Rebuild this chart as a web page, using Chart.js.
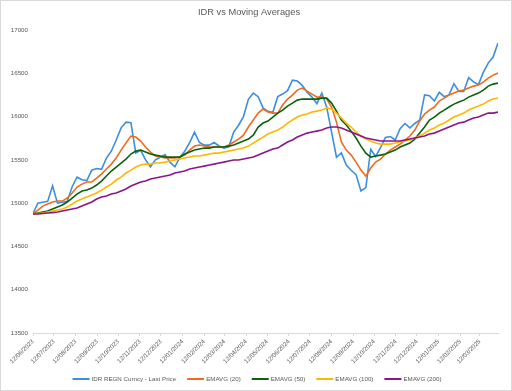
<!DOCTYPE html>
<html>
<head>
<meta charset="utf-8">
<script src="https://cdn.jsdelivr.net/npm/chart.js@4"></script>
<style>
  html, body { margin: 0; padding: 0; background: #fff; }
</style>
</head>
<body>
<canvas id="fxChart" width="512" height="391"></canvas>
<script>
// Weekly samples (Mondays)
const weeks = [
  '12/06/2023','19/06/2023','26/06/2023','03/07/2023','10/07/2023','17/07/2023','24/07/2023','31/07/2023',
  '07/08/2023','14/08/2023','21/08/2023','28/08/2023','04/09/2023','11/09/2023','18/09/2023','25/09/2023',
  '02/10/2023','09/10/2023','16/10/2023','23/10/2023','30/10/2023','06/11/2023','13/11/2023','20/11/2023',
  '27/11/2023','04/12/2023','11/12/2023','18/12/2023','25/12/2023',
  '01/01/2024','08/01/2024','15/01/2024','22/01/2024','29/01/2024','05/02/2024','12/02/2024','19/02/2024',
  '26/02/2024','04/03/2024','11/03/2024','18/03/2024','25/03/2024','01/04/2024','08/04/2024','15/04/2024',
  '22/04/2024','29/04/2024','06/05/2024','13/05/2024','20/05/2024','27/05/2024','03/06/2024','10/06/2024',
  '17/06/2024','24/06/2024','01/07/2024','08/07/2024','15/07/2024','22/07/2024','29/07/2024','05/08/2024',
  '12/08/2024','19/08/2024','26/08/2024','02/09/2024','09/09/2024','16/09/2024','23/09/2024','30/09/2024',
  '07/10/2024','14/10/2024','21/10/2024','28/10/2024','04/11/2024','11/11/2024','18/11/2024','25/11/2024',
  '02/12/2024','09/12/2024','16/12/2024','23/12/2024','30/12/2024',
  '06/01/2025','13/01/2025','20/01/2025','27/01/2025','03/02/2025','10/02/2025','17/02/2025','24/02/2025',
  '03/03/2025','10/03/2025','17/03/2025','24/03/2025','31/03/2025','07/04/2025'
];

const monthTicks = [
  '12/06/2023','12/07/2023','12/08/2023','12/09/2023','12/10/2023','12/11/2023','12/12/2023',
  '12/01/2024','12/02/2024','12/03/2024','12/04/2024','12/05/2024','12/06/2024','12/07/2024',
  '12/08/2024','12/09/2024','12/10/2024','12/11/2024','12/12/2024','12/01/2025','12/02/2025','12/03/2025'
];

const yTicks = [13500, 14000, 14500, 15000, 15500, 16000, 16500, 17000];

const price = [
  14880,15000,15010,15020,15200,15000,15010,15020,15190,15300,
  15270,15260,15380,15400,15390,15520,15600,15730,15870,15936,
  15930,15580,15610,15500,15420,15500,15530,15560,15470,15420,
  15530,15600,15700,15820,15700,15670,15670,15700,15660,15636,
  15650,15820,15900,16000,16200,16270,16230,16100,16060,16050,
  16230,16260,16300,16420,16410,16360,16280,16225,16150,16270,
  16110,15820,15530,15580,15440,15380,15330,15140,15180,15620,
  15540,15640,15760,15770,15730,15860,15920,15870,15920,15960,
  16250,16240,16180,16280,16230,16250,16380,16290,16290,16450,
  16400,16370,16510,16618,16687,16849
];

const ema20 = [
  14874,14920,14966,14990,15013,15024,15024,15059,15117,15186,
  15220,15244,15244,15290,15336,15394,15451,15521,15613,15694,
  15775,15763,15717,15648,15590,15544,15532,15521,15521,15521,
  15532,15555,15613,15659,15671,15659,15648,15648,15648,15648,
  15671,15706,15740,15786,15879,15960,16040,16087,16052,16040,
  16040,16133,16202,16248,16306,16329,16294,16260,16225,16225,
  16202,16110,15936,15706,15613,15555,15474,15382,15313,15405,
  15474,15509,15567,15613,15648,15682,15729,15775,15844,15948,
  16029,16075,16110,16179,16213,16248,16271,16294,16306,16329,
  16352,16364,16398,16444,16479,16502
];

const ema50 = [
  14874,14886,14897,14909,14932,14955,14978,15013,15059,15105,
  15140,15151,15174,15209,15255,15313,15371,15417,15463,15509,
  15567,15601,15613,15590,15567,15555,15544,15532,15532,15532,
  15532,15567,15590,15613,15625,15636,15636,15648,15648,15648,
  15659,15671,15694,15717,15740,15786,15879,15925,15948,15994,
  16040,16075,16121,16156,16190,16202,16202,16202,16202,16213,
  16213,16156,16063,15960,15902,15832,15752,15659,15578,15532,
  15544,15555,15567,15590,15613,15648,15671,15694,15740,15809,
  15879,15960,15994,16040,16075,16110,16144,16167,16190,16225,
  16248,16271,16306,16352,16375,16387
];

const ema100 = [
  14874,14880,14886,14897,14909,14920,14932,14955,14990,15024,
  15047,15070,15093,15117,15151,15186,15220,15267,15301,15348,
  15382,15417,15440,15451,15451,15463,15463,15474,15486,15498,
  15509,15521,15532,15544,15544,15555,15567,15578,15578,15590,
  15601,15613,15625,15636,15659,15694,15729,15763,15798,15821,
  15844,15879,15925,15960,15994,16017,16029,16052,16063,16075,
  16098,16087,16040,15983,15925,15879,15821,15775,15740,15717,
  15694,15682,15682,15682,15694,15706,15717,15729,15752,15775,
  15809,15844,15867,15902,15925,15960,15994,16017,16040,16075,
  16098,16121,16144,16179,16202,16213
];

const ema200 = [
  14874,14874,14880,14886,14891,14897,14909,14920,14932,14943,
  14966,14990,15013,15047,15070,15082,15105,15117,15140,15163,
  15197,15220,15244,15255,15278,15290,15301,15313,15324,15348,
  15359,15371,15394,15405,15417,15428,15440,15451,15463,15474,
  15486,15498,15498,15509,15521,15532,15555,15578,15601,15625,
  15636,15671,15706,15729,15763,15786,15809,15821,15832,15844,
  15867,15879,15879,15867,15844,15821,15798,15775,15752,15740,
  15729,15717,15717,15717,15717,15717,15729,15740,15752,15763,
  15775,15798,15809,15832,15856,15879,15902,15925,15936,15960,
  15983,15994,16017,16040,16040,16052
];

const seriesNames = ['IDR REGN Curncy - Last Price', 'EMAVG (20)', 'EMAVG (50)', 'EMAVG (100)', 'EMAVG (200)'];
const seriesValues = [price, ema20, ema50, ema100, ema200];
const seriesColors = ['#3d8edc', '#ee6b1e', '#0b620b', '#ffb800', '#8d1489'];

const FONT = "'Liberation Sans', Arial, sans-serif";
const TEXT = '#595959';

// dd/mm/yyyy -> day number
function toDay(s) {
  const [d, m, y] = s.split('/').map(Number);
  return Date.UTC(y, m - 1, d) / 86400000;
}
const day0 = toDay(weeks[0]);
const xs = weeks.map(w => toDay(w) - day0);
const tickDays = monthTicks.map(t => toDay(t) - day0);

// white background + thin frame
const framePlugin = {
  id: 'frame',
  beforeDraw(chart) {
    const { ctx, width, height } = chart;
    ctx.save();
    ctx.fillStyle = '#fff';
    ctx.fillRect(0, 0, width, height);
    ctx.strokeStyle = '#d9d9d9';
    ctx.lineWidth = 1;
    ctx.strokeRect(0.5, 0.5, width - 1, height - 1);
    ctx.restore();
  }
};

// legend row at the bottom, line samples like Excel
const legendPlugin = {
  id: 'bottomLegend',
  afterDraw(chart) {
    const ctx = chart.ctx;
    ctx.save();
    ctx.font = '6.2px ' + FONT;
    const items = chart.data.datasets.map(ds => ({
      label: ds.label, color: ds.borderColor, w: ctx.measureText(ds.label).width
    }));
    const lineW = 17, gap = 2, space = 11;
    const total = items.reduce((s, it) => s + lineW + gap + it.w, 0) + space * (items.length - 1);
    let x = 257 - total / 2;
    const y = 379;
    items.forEach(it => {
      ctx.strokeStyle = it.color;
      ctx.lineWidth = 2;
      ctx.beginPath();
      ctx.moveTo(x, y);
      ctx.lineTo(x + lineW, y);
      ctx.stroke();
      ctx.fillStyle = TEXT;
      ctx.textBaseline = 'middle';
      ctx.fillText(it.label, x + lineW + gap, y + 0.5);
      x += lineW + gap + it.w + space;
    });
    ctx.restore();
  }
};

new Chart(document.getElementById('fxChart'), {
  type: 'line',
  data: {
    datasets: seriesNames.map((name, i) => ({
      label: name,
      data: seriesValues[i].map((v, j) => ({ x: xs[j], y: v })),
      borderColor: seriesColors[i],
      backgroundColor: seriesColors[i],
      borderWidth: 1.6,
      pointRadius: 0,
      tension: 0,
      fill: false,
      order: seriesNames.length - i
    }))
  },
  options: {
    responsive: false,
    animation: false,
    layout: { padding: { left: 0, right: 14, top: 0, bottom: 20 } },
    plugins: {
      legend: { display: false },
      tooltip: { enabled: false },
      title: {
        display: true,
        text: 'IDR vs Moving Averages',
        color: TEXT,
        font: { size: 9.3, weight: 'normal', family: FONT },
        padding: { top: 7, bottom: 11.84 }
      }
    },
    scales: {
      x: {
        type: 'linear',
        min: 0,
        max: xs[xs.length - 1],
        afterBuildTicks: scale => { scale.ticks = tickDays.map(v => ({ value: v })); },
        afterFit: scale => { scale.height = 38; scale.paddingLeft = 0; scale.paddingRight = 0; },
        ticks: {
          autoSkip: false,
          minRotation: 45,
          maxRotation: 45,
          padding: 2,
          color: TEXT,
          font: { size: 6.2, family: FONT },
          callback: (value, index) => monthTicks[index]
        },
        grid: { drawOnChartArea: false, drawTicks: true, tickLength: 3, color: '#d9d9d9' },
        border: { display: true, color: '#d9d9d9' }
      },
      y: {
        min: 13500,
        max: 17000,
        afterBuildTicks: scale => { scale.ticks = yTicks.map(v => ({ value: v })); },
        afterFit: scale => { scale.width = 33; scale.paddingTop = 0; scale.paddingBottom = 0; },
        ticks: {
          padding: 5,
          color: TEXT,
          font: { size: 6.2, family: FONT },
          callback: value => String(value)
        },
        grid: { display: false, drawTicks: false },
        border: { display: false }
      }
    }
  },
  plugins: [framePlugin, legendPlugin]
});
</script>
</body>
</html>
